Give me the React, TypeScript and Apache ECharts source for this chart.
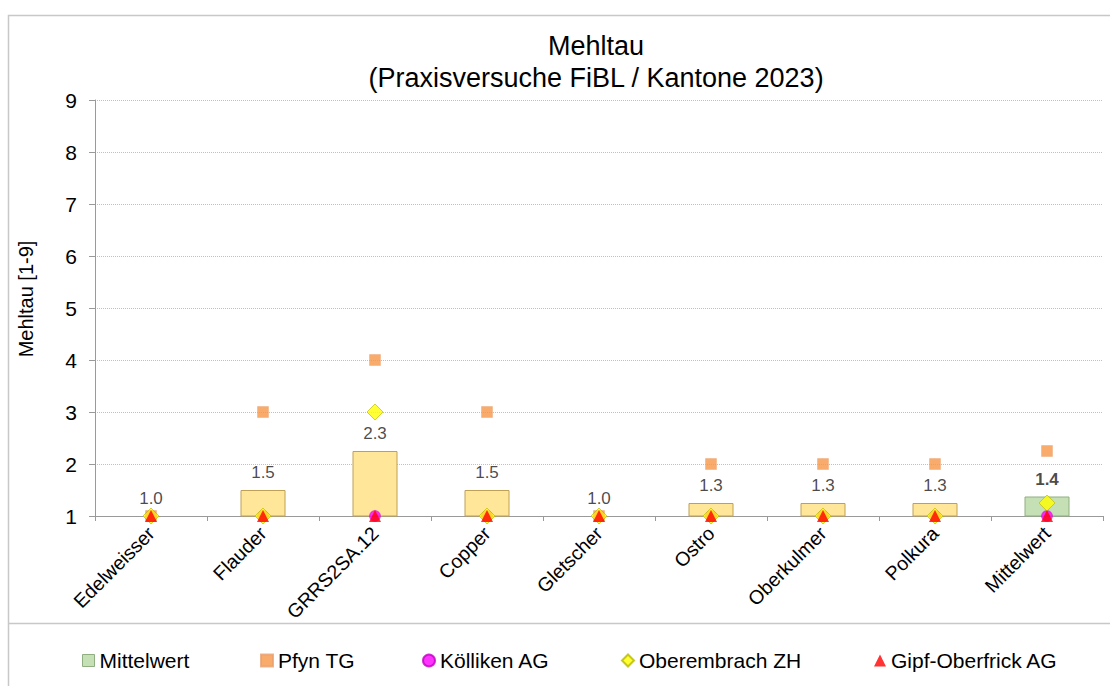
import React, { useEffect, useRef } from "react";
import * as echarts from "echarts";

const categories = ["Edelweisser", "Flauder", "GRRS2SA.12", "Copper", "Gletscher", "Ostro", "Oberkulmer", "Polkura", "Mittelwert"];
const mittelwert = [1.0, 1.5, 2.25, 1.5, 1.0, 1.25, 1.25, 1.25, 1.375];
const pfynTG = [1, 3, 4, 3, 1, 2, 2, 2, 2.25];
const koelliken = [1, 1, 1, 1, 1, 1, 1, 1, 1];
const oberembrach = [1, 1, 3, 1, 1, 1, 1, 1, 1.25];
const gipf = [1, 1, 1, 1, 1, 1, 1, 1, 1];
const yTicks = [1, 2, 3, 4, 5, 6, 7, 8, 9];

const FONT = "Liberation Sans, Arial, sans-serif";

export default function App() {
  const ref = useRef<HTMLDivElement>(null);
  useEffect(() => {
    if (!ref.current) return;
    const chart = echarts.init(ref.current, null, { renderer: "svg" });
    const n = categories.length;
    const barData = mittelwert.map((v, i) => ({
      value: v,
      itemStyle: i === n - 1
        ? { color: "#C5E0B4", borderColor: "#8FAF80", borderWidth: 1 }
        : { color: "#FFE699", borderColor: "#BFA054", borderWidth: 1 },
    }));
    const labelData = mittelwert.map((v, i) => ({
      value: v,
      label: i === n - 1 ? { fontWeight: "bold" } : { fontWeight: "normal" },
    }));
    const legendBase = {
      orient: "horizontal",
      top: 645,
      itemWidth: 12,
      itemHeight: 12,
      itemGap: 4,
      textStyle: { fontFamily: FONT, fontSize: 21, color: "#000" },
      selectedMode: false,
    };
    chart.setOption({
      animation: false,
      backgroundColor: "#fff",
      title: {
        text: "Mehltau\n(Praxisversuche FiBL / Kantone 2023)",
        left: 591,
        top: 25,
        textAlign: "center",
        textStyle: { fontFamily: FONT, fontSize: 27, fontWeight: "normal", color: "#000", lineHeight: 32 },
      },
      graphic: [
        { type: "rect", shape: { x: 8.5, y: 15.5, width: 1110, height: 700 }, style: { fill: "none", stroke: "#C8C8C8", lineWidth: 1.5 }, z: 0 },
        { type: "line", shape: { x1: 8, y1: 623.5, x2: 1110, y2: 623.5 }, style: { stroke: "#C8C8C8", lineWidth: 1.5 }, z: 0 },
        {
          type: "text",
          x: 26,
          y: 299,
          rotation: Math.PI / 2,
          style: { text: "Mehltau [1-9]", fontFamily: FONT, fontSize: 20, fill: "#000", align: "center", verticalAlign: "middle" },
        },
      ],
      legend: [
        { ...legendBase, left: 77, data: [{ name: "Mittelwert", icon: "rect", itemStyle: { color: "#C5E0B4", borderColor: "#8FAF80", borderWidth: 1 } }] },
        { ...legendBase, left: 255, data: [{ name: "Pfyn TG", icon: "rect" }] },
        { ...legendBase, left: 417, data: [{ name: "Kölliken AG", icon: "circle" }] },
        { ...legendBase, left: 616, data: [{ name: "Oberembrach ZH", icon: "diamond" }] },
        { ...legendBase, left: 869, data: [{ name: "Gipf-Oberfrick AG", icon: "triangle" }] },
      ],
      grid: { left: 95, top: 100, width: 1008, height: 416, containLabel: false },
      xAxis: {
        type: "category",
        data: categories,
        axisLine: { lineStyle: { color: "#9A9A9A", width: 1 } },
        axisTick: { show: true, length: 5, lineStyle: { color: "#9A9A9A" }, alignWithLabel: false },
        axisLabel: { rotate: 45, fontFamily: FONT, fontSize: 19.5, color: "#000", margin: 14, interval: 0 },
      },
      yAxis: {
        type: "value",
        min: 1,
        max: 9,
        interval: 1,
        axisLine: { show: true, lineStyle: { color: "#9A9A9A" } },
        axisTick: { show: true, length: 6, lineStyle: { color: "#9A9A9A" } },
        axisLabel: { fontFamily: FONT, fontSize: 21, color: "#000", margin: 18, formatter: (v: number) => (yTicks.includes(v) ? String(v) : "") },
        splitLine: { show: true, lineStyle: { color: "#C0C0C0", type: "dotted", width: 1 } },
      },
      series: [
        {
          name: "Mittelwert",
          type: "bar",
          data: barData,
          barWidth: 45,
          itemStyle: { color: "#C5E0B4" },
          z: 2,
        },
        {
          name: "labels",
          type: "scatter",
          data: labelData,
          symbolSize: 0,
          silent: true,
          itemStyle: { color: "transparent" },
          label: {
            show: true,
            position: "top",
            distance: 9,
            fontFamily: FONT,
            fontSize: 17,
            color: "#1a1a1a",
            formatter: (p: any) => (Math.round(p.value * 10 + 1e-9) / 10).toFixed(1),
          },
          z: 2,
        },
        {
          name: "Pfyn TG",
          type: "scatter",
          data: pfynTG,
          symbol: "rect",
          symbolSize: 11,
          itemStyle: { color: "#F79646", borderColor: "#E8A070", borderWidth: 0.5 },
          z: 3,
        },
        {
          name: "Kölliken AG",
          type: "scatter",
          data: koelliken,
          symbol: "circle",
          symbolSize: 11,
          itemStyle: { color: "#FF00FF", borderColor: "#C000C0", borderWidth: 0.5 },
          z: 4,
        },
        {
          name: "Oberembrach ZH",
          type: "scatter",
          data: oberembrach,
          symbol: "diamond",
          symbolSize: [16, 16],
          itemStyle: { color: "#FFFF00", borderColor: "#B8B800", borderWidth: 0.8 },
          z: 5,
        },
        {
          name: "Gipf-Oberfrick AG",
          type: "scatter",
          data: gipf,
          symbol: "triangle",
          symbolSize: [12, 12],
          itemStyle: { color: "#FF0000" },
          z: 6,
        },
      ],
    });
    return () => chart.dispose();
  }, []);
  return <div ref={ref} style={{ position: "fixed", left: 0, top: 0, width: 1110, height: 686 }} />;
}
